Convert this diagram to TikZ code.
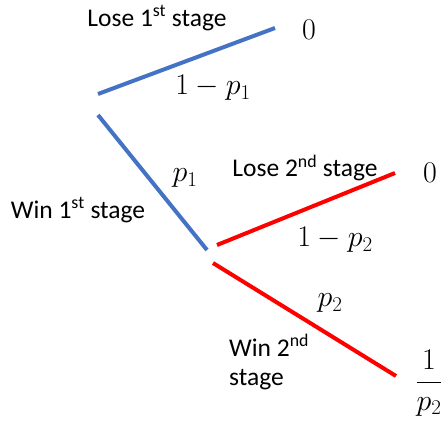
\RequirePackage{fix-cm}
\documentclass[tikz,border=0pt]{standalone}
\usepackage{fontspec}
\setmainfont{Carlito}
\begin{document}
\begin{tikzpicture}[x=1pt,y=-1pt,
  blueline/.style={draw={rgb,255:red,68;green,114;blue,196},line width=4pt},
  redline/.style={draw=red,line width=4pt},
  lbl/.style={inner sep=0pt,font=\fontsize{25.5}{29}\selectfont},
  mlbl/.style={inner sep=0pt,font=\fontsize{30}{34}\selectfont}]
\useasboundingbox (0,0) rectangle (444,421);
\coordinate (a1) at (98,94);
\coordinate (a2) at (275,28);
\coordinate (b1) at (98,115);
\coordinate (b2) at (207,250);
\coordinate (c1) at (217,245);
\coordinate (c2) at (395,173);
\coordinate (d1) at (213,263);
\coordinate (d2) at (396,376);
\draw[blueline] (a1) -- (a2);
\draw[blueline] (b1) -- (b2);
\draw[redline] (c1) -- (c2);
\draw[redline] (d1) -- (d2);
\node[lbl] (t1) at (157,18) {Lose 1\textsuperscript{st} stage};
\node[mlbl] (z1) at (309,30) {$0$};
\node[mlbl] (q1) at (213,88) {$1-p_1$};
\node[mlbl] (p1) at (185,178) {$p_1$};
\node[lbl] (t2) at (305,168) {Lose 2\textsuperscript{nd} stage};
\node[mlbl] (z2) at (430,173) {$0$};
\node[lbl] (t3) at (78,210) {Win 1\textsuperscript{st} stage};
\node[mlbl] (q2) at (335,240) {$1-p_2$};
\node[mlbl] (p2) at (330,303) {$p_2$};
\node[lbl,anchor=west,align=left] (t4) at (229,362) {Win 2\textsuperscript{nd}\\stage};
\node[mlbl] (f) at (429,383) {$\displaystyle\frac{1}{p_2}$};
\end{tikzpicture}
\end{document}
